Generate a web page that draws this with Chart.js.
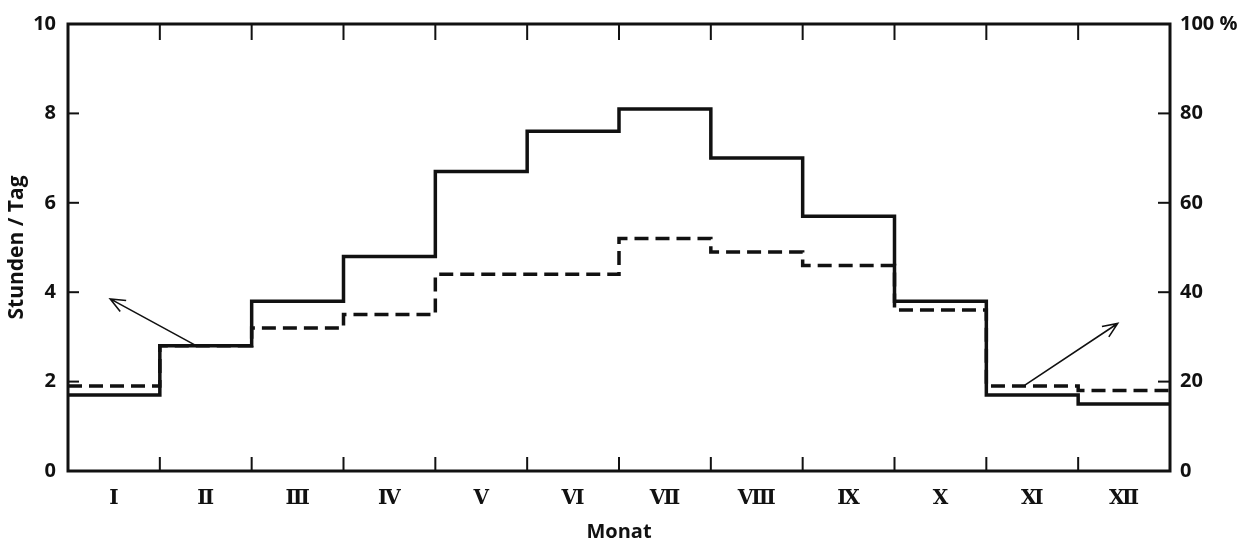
<!DOCTYPE html>
<html>
<head>
<meta charset="utf-8">
<script src="https://cdn.jsdelivr.net/npm/chart.js@4"></script>
<style>
  html, body { margin: 0; padding: 0; background: #fff; }
  #wrap { width: 1247px; height: 548px; }
</style>
</head>
<body>
<div id="wrap"><canvas id="chart" width="1247" height="548"></canvas></div>
<script>
// Monate (römisch) und Werte aus dem Diagramm
const months = ['Ⅰ', 'Ⅱ', 'Ⅲ', 'Ⅳ', 'Ⅴ', 'Ⅵ', 'Ⅶ', 'Ⅷ', 'Ⅸ', 'Ⅹ', 'Ⅺ', 'Ⅻ'];
const hoursPerDay = [1.7, 2.8, 3.8, 4.8, 6.7, 7.6, 8.1, 7.0, 5.7, 3.8, 1.7, 1.5];
const percent = [19, 28, 32, 35, 44, 44, 52, 49, 46, 36, 19, 18];
const leftTicks = [0, 2, 4, 6, 8, 10];
const rightTicks = [0, 20, 40, 60, 80, 100];

// Pfeile: [x, y] in Datenkoordinaten (Monatsindex, Achsenwert)
const arrowLeft = { axis: 'y', from: [1.4, 2.8], to: [0.46, 3.85] };
const arrowRight = { axis: 'y2', from: [10.42, 19.2], to: [11.43, 33] };

const ink = '#111';
const numFont = { family: 'Open Sans', size: 20, weight: 'bold' };

const toSteps = (vals) => {
    const pts = vals.map((v, i) => ({ x: i, y: v }));
    pts.push({ x: vals.length, y: vals[vals.length - 1] });
    return pts;
};

const frame = {
    id: 'frame',
    afterDatasetsDraw(chart) {
        const { ctx, chartArea: a, scales } = chart;
        const x = scales.x;
        ctx.save();
        ctx.strokeStyle = ink;
        ctx.lineWidth = 3;
        ctx.strokeRect(a.left, a.top, a.right - a.left, a.bottom - a.top);
        ctx.lineWidth = 2;
        // Monatsgrenzen: Striche nach innen, oben und unten
        for (let i = 1; i < months.length; i++) {
            const px = x.getPixelForValue(i);
            ctx.beginPath();
            ctx.moveTo(px, a.bottom); ctx.lineTo(px, a.bottom - 14);
            ctx.moveTo(px, a.top); ctx.lineTo(px, a.top + 16);
            ctx.stroke();
        }
        leftTicks.forEach((v) => {
            const py = scales.y.getPixelForValue(v);
            ctx.beginPath(); ctx.moveTo(a.left, py); ctx.lineTo(a.left + 11, py); ctx.stroke();
        });
        rightTicks.forEach((v) => {
            const py = scales.y2.getPixelForValue(v);
            ctx.beginPath(); ctx.moveTo(a.right, py); ctx.lineTo(a.right - 12, py); ctx.stroke();
        });
        // Pfeile
        ctx.lineWidth = 1.6;
        [arrowLeft, arrowRight].forEach((ar) => {
            const ys = scales[ar.axis];
            const x1 = x.getPixelForValue(ar.from[0]), y1 = ys.getPixelForValue(ar.from[1]);
            const x2 = x.getPixelForValue(ar.to[0]), y2 = ys.getPixelForValue(ar.to[1]);
            const ang = Math.atan2(y2 - y1, x2 - x1);
            const h = 16;
            ctx.beginPath();
            ctx.moveTo(x1, y1); ctx.lineTo(x2, y2);
            ctx.moveTo(x2 - h * Math.cos(ang - 0.4), y2 - h * Math.sin(ang - 0.4));
            ctx.lineTo(x2, y2);
            ctx.lineTo(x2 - h * Math.cos(ang + 0.4), y2 - h * Math.sin(ang + 0.4));
            ctx.stroke();
        });
        ctx.restore();
    },
};

new Chart(document.getElementById('chart'), {
    type: 'line',
    data: {
        datasets: [
            {
                label: 'Stunden / Tag',
                data: toSteps(hoursPerDay),
                yAxisID: 'y',
                stepped: 'before',
                borderColor: ink,
                borderWidth: 3.5,
                pointRadius: 0,
                fill: false,
            },
            {
                label: '%',
                data: toSteps(percent),
                yAxisID: 'y2',
                stepped: 'before',
                borderColor: ink,
                borderWidth: 3.5,
                borderDash: [14, 7],
                pointRadius: 0,
                fill: false,
            },
        ],
    },
    options: {
        responsive: false,
        animation: false,
        layout: { padding: { top: 19, left: 0, right: 0, bottom: 0 } },
        plugins: { legend: { display: false }, tooltip: { enabled: false } },
        scales: {
            x: {
                type: 'linear',
                min: 0,
                max: 12,
                afterBuildTicks: (s) => { s.ticks = months.map((m, i) => ({ value: i + 0.5 })); },
                afterFit: (s) => { s.height = 77; },
                grid: { display: false, drawTicks: false },
                border: { display: false },
                ticks: {
                    autoSkip: false,
                    maxRotation: 0,
                    padding: 16,
                    color: ink,
                    font: { family: "'DejaVu Serif', serif", size: 20, weight: 'bold' },
                    callback: (v) => months[Math.floor(v)],
                },
                title: {
                    display: true,
                    text: 'Monat',
                    color: ink,
                    font: { family: 'Open Sans', size: 20, weight: 'bold' },
                    padding: { top: 2 },
                },
            },
            y: {
                position: 'left',
                min: 0,
                max: 10,
                afterBuildTicks: (s) => { s.ticks = leftTicks.map((v) => ({ value: v })); },
                afterFit: (s) => { s.width = 68; },
                grid: { display: false, drawTicks: false },
                border: { display: false },
                ticks: { padding: 12, color: ink, font: numFont },
                title: {
                    display: true,
                    text: 'Stunden / Tag',
                    color: ink,
                    font: { family: 'Open Sans', size: 21, weight: 'bold' },
                    padding: { bottom: 0 },
                },
            },
            y2: {
                position: 'right',
                min: 0,
                max: 100,
                afterBuildTicks: (s) => { s.ticks = rightTicks.map((v) => ({ value: v })); },
                afterFit: (s) => { s.width = 77; },
                grid: { display: false, drawTicks: false },
                border: { display: false },
                ticks: {
                    padding: 10,
                    color: ink,
                    font: numFont,
                    callback: (v) => (v === 100 ? '100 %' : v),
                },
            },
        },
    },
    plugins: [frame],
});
</script>
</body>
</html>
